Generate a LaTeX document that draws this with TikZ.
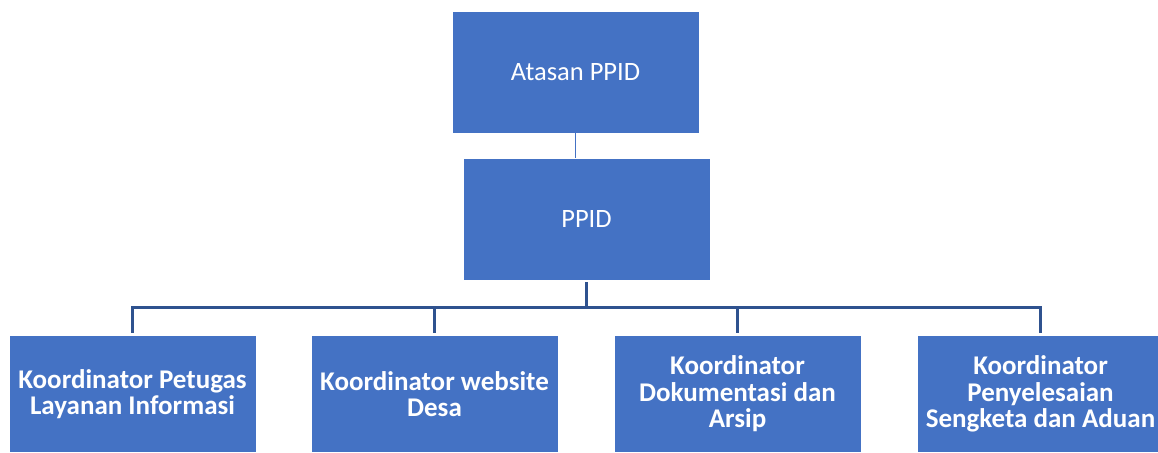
\documentclass[tikz,border=0pt]{standalone}
\usepackage{fontspec}
\setmainfont{Carlito}
\definecolor{boxblue}{HTML}{4472C4}
\definecolor{linedark}{HTML}{2F528F}
\begin{document}
\begin{tikzpicture}[x=1pt,y=-1pt,
  orgbox/.style={rectangle, fill=boxblue, draw=white, line width=0.6pt, text=white,
    align=center, inner sep=0pt, minimum width=247pt, font=\fontsize{26.5}{26}\selectfont},
  topbox/.style={orgbox, minimum height=122pt},
  lowbox/.style={orgbox, minimum height=117pt, font=\fontsize{27}{26.5}\selectfont\bfseries},
  conn/.style={draw=linedark, line width=3pt, line join=miter},
  thinconn/.style={draw=boxblue, line width=1.2pt}]
\useasboundingbox (0,0) rectangle (1158,452);
\clip (0,0) rectangle (1158,452);
\fill[white] (0,0) rectangle (1158,452);

\node[topbox] (top) at (575.5,72) {Atasan PPID};
\node[topbox] (ppid) at (586.5,219) {PPID};

\node[lowbox] (k1) at (132.5,394) {Koordinator Petugas\\Layanan Informasi};
\node[lowbox] (k2) at (434.5,394) {Koordinator website\\Desa};
\node[lowbox] (k3) at (737.5,394) {Koordinator\\Dokumentasi dan\\Arsip};
\node[lowbox] (k4) at (1040.5,394) {Koordinator\\Penyelesaian\\Sengketa dan Aduan};

\coordinate (bus) at (586.5,307.5);

\draw[thinconn] (top.south) -- (top.south |- ppid.north);
\draw[conn, shorten <=2pt] (ppid.south) -- (bus);
\draw[conn, shorten <=2.5pt, shorten >=2.5pt] (k1.north) -- (k1.north |- bus) -- (k4.north |- bus) -- (k4.north);
\draw[conn, shorten >=2.5pt] (k2.north |- bus) -- (k2.north);
\draw[conn, shorten >=2.5pt] (k3.north |- bus) -- (k3.north);
\end{tikzpicture}
\end{document}
